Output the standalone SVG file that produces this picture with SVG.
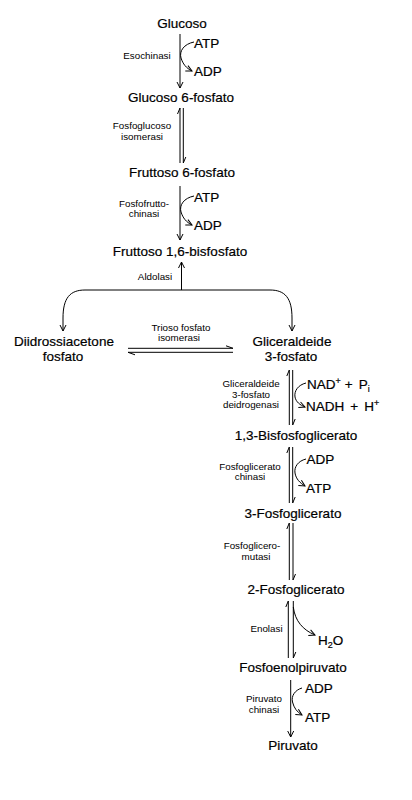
<svg xmlns="http://www.w3.org/2000/svg" width="412" height="800" viewBox="0 0 412 800">
<defs>
<marker id="ah" viewBox="0 0 8 8" refX="7" refY="4" markerWidth="8" markerHeight="8" markerUnits="userSpaceOnUse" orient="auto-start-reverse">
<path d="M1,1 L7,4 L1,7" fill="none" stroke="#000" stroke-width="1"/>
</marker>
<style>
.c{font-family:"Liberation Sans",Arial,sans-serif;font-size:13.5px;fill:#000;stroke:#000;stroke-width:0.2;text-anchor:middle}
.s{font-family:"Liberation Sans",Arial,sans-serif;font-size:13.5px;fill:#000;stroke:#000;stroke-width:0.2}
.e{font-family:"Liberation Sans",Arial,sans-serif;font-size:9.8px;fill:#000;text-anchor:middle}
.l{fill:none;stroke:#000;stroke-width:1}
.a{fill:none;stroke:#000;stroke-width:1;marker-end:url(#ah)}
</style>
</defs>
<rect width="412" height="800" fill="#fff"/>
<g id="connectors">
<path class="a" d="M180,34 L180,88"/>
<path class="a" d="M194,42 C184,44 179,51 181,58 C183,64 186,68 192,71"/>
<path class="l" d="M180,163 L180,108 L177.5,114"/>
<path class="l" d="M183.3,108 L183.3,163 L185.8,157"/>
<path class="a" d="M180,186 L180,240"/>
<path class="a" d="M194,196 C184,198 179,205 181,212 C183,218 186,222 192,225"/>
<path class="a" d="M181.5,290 L181.5,262"/>
<path class="l" d="M63,331 L63,318 C63,298 70,290 85,290 L270,290 C285,290 292,298 292,318 L292,331" marker-start="url(#ah)" marker-end="url(#ah)"/>
<path class="l" d="M128,348.3 L233,348.3 L226,345.8"/>
<path class="l" d="M233,352.3 L128,352.3 L135,354.8"/>
<path class="l" d="M289.3,425 L289.3,370 L286.8,376"/>
<path class="l" d="M292.7,370 L292.7,425 L295.2,419"/>
<path class="a" d="M306,383 C298,385 294,391 295,397 C296,402 300,405 305,407"/>
<path class="l" d="M289.3,503 L289.3,447 L286.8,453"/>
<path class="l" d="M292.7,447 L292.7,503 L295.2,497"/>
<path class="a" d="M306,459 C298,461 294,467 295,473 C296,479 300,483 305,486"/>
<path class="l" d="M289.3,580 L289.3,523 L286.8,529"/>
<path class="l" d="M293,523 L293,580 L295.5,574"/>
<path class="l" d="M288.3,658 L288.3,601 L285.8,607"/>
<path class="l" d="M293.3,601 L293.3,658 L295.8,652"/>
<path class="a" d="M293.3,607 C295,621 303,630 315,635"/>
<path class="a" d="M290.7,680 L290.7,737"/>
<path class="a" d="M302,688 C295,690 291,696 292.5,702 C294,708 297,712 302,715"/>
</g>
<g id="glucoso"><text class="c" x="182" y="28">Glucoso</text></g>
<g id="esochinasi"><text class="e" x="147" y="59">Esochinasi</text><text class="s" x="194" y="47.5">ATP</text><text class="s" x="194" y="76">ADP</text></g>
<g id="g6p"><text class="c" x="181" y="101.5">Glucoso 6-fosfato</text></g>
<g id="fosfoglucoso"><text class="e" x="142" y="129">Fosfoglucoso</text><text class="e" x="142" y="139.5">isomerasi</text></g>
<g id="f6p"><text class="c" x="182" y="177">Fruttoso 6-fosfato</text></g>
<g id="pfk"><text class="e" x="144" y="206.5">Fosfofrutto-</text><text class="e" x="144" y="217">chinasi</text><text class="s" x="194" y="201.5">ATP</text><text class="s" x="194" y="230">ADP</text></g>
<g id="f16bp"><text class="c" x="180" y="256">Fruttoso 1,6-bisfosfato</text></g>
<g id="aldolasi"><text class="e" x="155" y="280">Aldolasi</text></g>
<g id="dhap"><text class="c" x="64" y="346">Diidrossiacetone</text><text class="c" x="63" y="360.5">fosfato</text></g>
<g id="tpi"><text class="e" x="181" y="330.5">Trioso fosfato</text><text class="e" x="179" y="341">isomerasi</text></g>
<g id="gap"><text class="c" x="292" y="346">Gliceraldeide</text><text class="c" x="291" y="360.5">3-fosfato</text></g>
<g id="gapdh"><text class="e" x="251" y="387">Gliceraldeide</text><text class="e" x="251" y="397.5">3-fosfato</text><text class="e" x="251" y="408">deidrogenasi</text>
<text class="s" x="307" y="388.5">NAD<tspan font-size="9" dy="-5">+</tspan><tspan dy="5" dx="4">+</tspan><tspan dx="6">P</tspan><tspan font-size="9" dy="3">i</tspan></text>
<text class="s" x="306" y="411">NADH<tspan dx="6">+</tspan><tspan dx="6">H</tspan><tspan font-size="9" dy="-5">+</tspan></text></g>
<g id="bpg"><text class="c" x="296" y="440">1,3-Bisfosfoglicerato</text></g>
<g id="pgk"><text class="e" x="250" y="469.5">Fosfoglicerato</text><text class="e" x="250" y="480">chinasi</text><text class="s" x="306.5" y="463.5">ADP</text><text class="s" x="306" y="492.5">ATP</text></g>
<g id="pg3"><text class="c" x="293" y="517.5">3-Fosfoglicerato</text></g>
<g id="pgm"><text class="e" x="252" y="549">Fosfoglicero-</text><text class="e" x="256" y="559.5">mutasi</text></g>
<g id="pg2"><text class="c" x="296" y="593.5">2-Fosfoglicerato</text></g>
<g id="enolasi"><text class="e" x="266.5" y="631.5">Enolasi</text><text class="s" x="318" y="645">H<tspan font-size="9" dy="3">2</tspan><tspan dy="-3">O</tspan></text></g>
<g id="pep"><text class="c" x="293" y="672">Fosfoenolpiruvato</text></g>
<g id="pk"><text class="e" x="264" y="702">Piruvato</text><text class="e" x="264" y="712.5">chinasi</text><text class="s" x="305" y="692.5">ADP</text><text class="s" x="305" y="721.5">ATP</text></g>
<g id="piruvato"><text class="c" x="293" y="750">Piruvato</text></g>
</svg>
